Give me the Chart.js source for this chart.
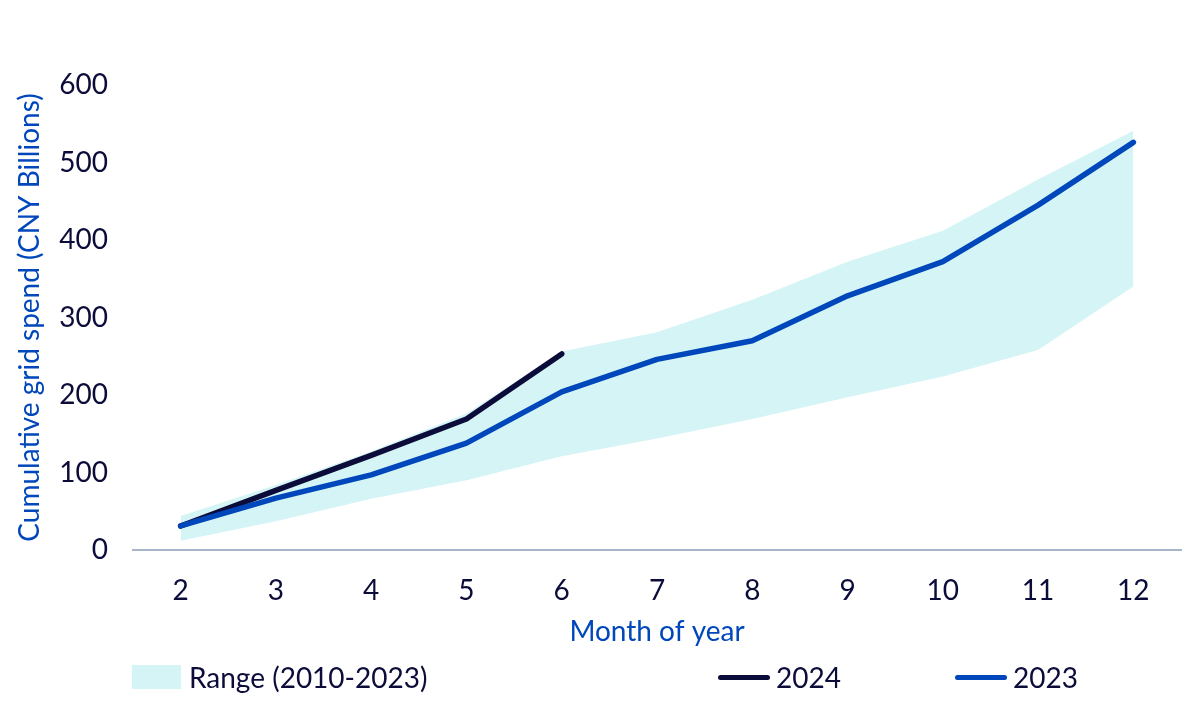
<!DOCTYPE html>
<html>
<head>
<meta charset="utf-8">
<script src="https://cdn.jsdelivr.net/npm/chart.js@4"></script>
<style>
    body { margin: 0; background: #fff; }
    #wrap { position: relative; width: 1200px; height: 709px; }
    .legend-item {
        position: absolute;
        top: 661px;
        height: 32px;
        display: flex;
        align-items: center;
        font-family: "Lato", sans-serif;
        font-size: 28px;
        color: #0c0c3a;
    }
    .swatch { width: 49px; height: 24px; background: #d4f4f6; margin-right: 8px; }
    .line-key { width: 52px; height: 5px; border-radius: 3px; margin-right: 6px; }
</style>
</head>
<body>
<div id="wrap">
    <canvas id="gridChart"></canvas>
    <div class="legend-item" style="left: 132px;"><span class="swatch"></span>Range (2010-2023)</div>
    <div class="legend-item" style="left: 718px;"><span class="line-key" style="background:#0c0c3a"></span>2024</div>
    <div class="legend-item" style="left: 955px;"><span class="line-key" style="background:#0047bb"></span>2023</div>
</div>
<script>
const months = ["2", "3", "4", "5", "6", "7", "8", "9", "10", "11", "12"];
const rangeLow = [12, 37, 66, 90, 121, 144, 169, 197, 224, 258, 340];
const rangeHigh = [44, 84, 127, 176, 256, 281, 323, 372, 412, 478, 541];
const spend2024 = [31, 77, 122, 169, 253, null, null, null, null, null, null];
const spend2023 = [31, 67, 97, 138, 204, 246, 270, 328, 372, 445, 526];

const tickColor = "#0c0c3a";
const titleColor = "#0047bb";

const lineStyle = {
    borderWidth: 5.5,
    pointRadius: 0,
    tension: 0,
    fill: false,
    borderCapStyle: "round",
    borderJoinStyle: "round",
    spanGaps: false,
};

const ctx = document.getElementById("gridChart").getContext("2d");
new Chart(ctx, {
    type: "line",
    data: {
        labels: months,
        datasets: [
            {
                label: "2023",
                data: spend2023,
                borderColor: "#0047bb",
                order: 0,
                ...lineStyle,
            },
            {
                label: "2024",
                data: spend2024,
                borderColor: "#0c0c3a",
                order: 1,
                ...lineStyle,
            },
            {
                label: "Range high",
                data: rangeHigh,
                borderWidth: 0,
                pointRadius: 0,
                tension: 0,
                backgroundColor: "#d4f4f6",
                fill: "+1",
                order: 2,
            },
            {
                label: "Range low",
                data: rangeLow,
                borderWidth: 0,
                pointRadius: 0,
                tension: 0,
                fill: false,
                order: 3,
            },
        ],
    },
    options: {
        responsive: true,
        maintainAspectRatio: false,
        animation: false,
        layout: { padding: { top: 85, right: 19, left: 0, bottom: 0 } },
        plugins: {
            legend: { display: false },
            tooltip: { enabled: false },
        },
        scales: {
            x: {
                offset: true,
                grid: { display: false, drawTicks: false },
                border: { display: true, color: "#a9b6c9", width: 2 },
                ticks: {
                    color: tickColor,
                    padding: 24,
                    font: { family: "Lato", size: 28 },
                    maxRotation: 0,
                },
                title: {
                    display: true,
                    text: "Month of year",
                    color: titleColor,
                    font: { family: "Lato", size: 28 },
                    padding: { top: 0, bottom: 60 },
                },
                afterFit: (scale) => {
                    scale.height = 159;
                },
            },
            y: {
                min: 0,
                max: 600,
                grid: { display: false, drawTicks: false },
                border: { display: false },
                ticks: {
                    stepSize: 100,
                    color: tickColor,
                    padding: 25,
                    font: { family: "Lato", size: 28 },
                },
                title: {
                    display: true,
                    text: "Cumulative grid spend (CNY Billions)",
                    color: titleColor,
                    font: { family: "Lato", size: 28 },
                    padding: { top: 13, bottom: 0 },
                },
                afterFit: (scale) => {
                    scale.width = 133;
                },
            },
        },
    },
});
</script>
</body>
</html>
